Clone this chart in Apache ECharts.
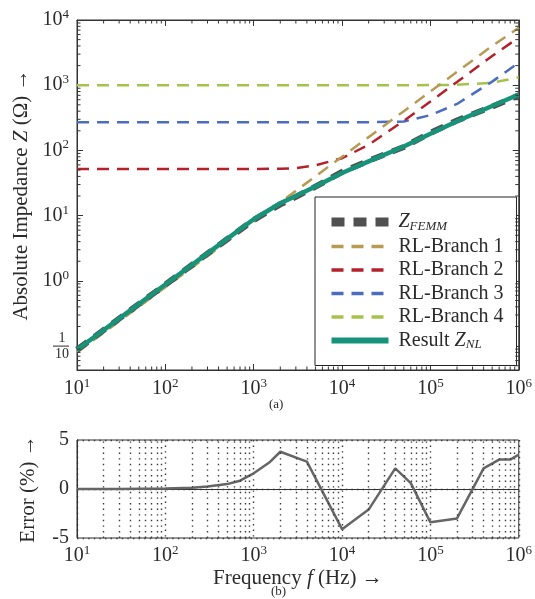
<!DOCTYPE html>
<html><head><meta charset="utf-8">
<script src="https://cdn.jsdelivr.net/npm/echarts@6/dist/echarts.min.js"></script>
<style>html,body{margin:0;padding:0;background:#fff}#c{width:535px;height:599px}</style>
</head><body><div id="c"></div>
<script>
// ---- data ----
const freq    = [10, 20, 50, 100, 200, 500, 1000, 2000, 3000, 5000, 10000, 20000, 50000, 100000, 200000, 500000, 1000000];
const zFemm   = [0.088, 0.176, 0.44, 0.875, 1.75, 4.35, 8.6, 14.9, 19.4, 27.8, 46.8, 69.5, 113, 186, 288, 470, 700];
const zNL     = [0.088, 0.176, 0.44, 0.88, 1.76, 4.4, 8.8, 15.5, 20, 28, 45, 68, 115, 180, 280, 480, 720];
const branch1 = [0.08, 0.16, 0.4, 0.8, 1.6, 4, 8, 16, 24, 40, 80, 160, 400, 800, 1600, 4000, 7600];
const branch2 = [52, 52, 52, 52, 52, 52, 52, 52.5, 53.5, 59, 76, 122, 285, 562, 1120, 2800, 5400];
const branch3 = [270, 270, 270, 270, 270, 270, 270, 270, 270, 270, 270, 270.4, 277, 348, 516, 1135, 2215];
const branch4 = [1000, 1000, 1000, 1000, 1000, 1000, 1000, 1000, 1000, 1000, 1000, 1000, 1000, 1004, 1015, 1090, 1320];
const errFreq = [10, 30, 100, 200, 300, 500, 700, 1000, 1500, 2000, 4000, 10000, 20000, 40000, 60000, 100000, 200000, 400000, 600000, 800000, 1000000];
const errPct  = [0, 0, 0.05, 0.12, 0.25, 0.5, 0.85, 1.6, 2.7, 3.8, 2.8, -4.1, -2.1, 2.1, 0.6, -3.4, -3.0, 2.1, 3.0, 3.0, 3.5];
const legendNames = ['Z_FEMM', 'RL-Branch 1', 'RL-Branch 2', 'RL-Branch 3', 'RL-Branch 4', 'Result Z_NL'];
const zMin = 0.043, zMax = 10000, fMin = 10, fMax = 1000000;
const errMin = -5, errMax = 5, errInterval = 5;

// ---- helpers ----
const FONT = 'Liberation Serif';
const TXT = '#2b2b2b';
const minorX = []; for (let k = 1; k <= 5; k++) for (let m = 2; m <= 9; m++) minorX.push(m * Math.pow(10, k));
const minorY = []; for (let k = -2; k <= 3; k++) for (let m = 2; m <= 9; m++) { const v = m * Math.pow(10, k); if (v > zMin && v < zMax) minorY.push(v); }
const pairs = (xs, ys) => xs.map((x, i) => [x, ys[i]]);
const isPow = v => { const e = Math.log10(v); return Math.abs(e - Math.round(e)) < 1e-6; };
const supRich = {
  s: { fontFamily: FONT, fontSize: 13, color: TXT, padding: [0, 0, 11, 0] },
  n: { fontFamily: FONT, fontSize: 14, color: TXT, lineHeight: 16, align: 'center' }
};
const powLabel = v => {
  if (!isPow(v)) return '';
  const k = Math.round(Math.log10(v));
  if (k === -1) return '{n|1}\n{n|10}';
  return '10{s|' + k + '}';
};
function minorTicks(dir) {
  const vals = dir === 'x' ? minorX : minorY;
  return {
    type: 'custom', xAxisIndex: 0, yAxisIndex: 0, silent: true, z: 6, clip: false,
    data: vals.map(v => dir === 'x' ? [v, 1] : [100, v]),
    renderItem(params, api) {
      const st = { stroke: '#333', lineWidth: 1 };
      if (dir === 'x') {
        const v = api.value(0), a = api.coord([v, zMin]), b = api.coord([v, zMax]);
        return { type: 'group', children: [
          { type: 'line', shape: { x1: a[0], y1: a[1], x2: a[0], y2: a[1] - 3.5 }, style: st },
          { type: 'line', shape: { x1: b[0], y1: b[1], x2: b[0], y2: b[1] + 3.5 }, style: st }] };
      }
      const v = api.value(1), a = api.coord([fMin, v]), b = api.coord([fMax, v]);
      return { type: 'group', children: [
        { type: 'line', shape: { x1: a[0], y1: a[1], x2: a[0] + 3.5, y2: a[1] }, style: st },
        { type: 'line', shape: { x1: b[0], y1: b[1], x2: b[0] - 3.5, y2: b[1] }, style: st }] };
    }
  };
}
const axLine = { show: true, lineStyle: { color: '#333', width: 1 } };
const tickIn = { show: true, inside: true, length: 6, lineStyle: { color: '#333' } };
const lineS = (name, data, color, width, dash, z) => ({
  name, type: 'line', data, xAxisIndex: 0, yAxisIndex: 0, symbol: 'none', z,
  lineStyle: { color, width, type: dash }, itemStyle: { color }
});
const dotted = { color: '#3a3a3a', width: 1.4, type: [1.4, 4.2] };
const nameRich = {
  r: { fontFamily: FONT, fontSize: 21, color: TXT },
  i: { fontFamily: FONT, fontSize: 21, fontStyle: 'italic', color: TXT }
};
const legendWidths = [9, 3.5, 3.5, 3.5, 3.5, 6];

const chart = echarts.init(document.getElementById('c'), null, { renderer: 'canvas' });
chart.setOption({
  animation: false,
  backgroundColor: '#fff',
  textStyle: { fontFamily: FONT, color: TXT },
  grid: [
    { left: 77, right: 14, top: 20, height: 350, show: true, borderColor: '#333', borderWidth: 1 },
    { left: 77, right: 13, top: 440, height: 98, show: true, borderColor: '#333', borderWidth: 1 }
  ],
  title: [
    { text: '(a)', left: 269, top: 398, textStyle: { fontFamily: FONT, fontSize: 13, fontWeight: 'normal', color: TXT }, padding: 0 },
    { text: '(b)', left: 271, top: 585, textStyle: { fontFamily: FONT, fontSize: 13, fontWeight: 'normal', color: TXT }, padding: 0 }
  ],
  legend: {
    data: legendNames.map((n, i) => ({ name: n, lineStyle: { width: legendWidths[i] } })),
    orient: 'vertical', left: 315, top: 197,
    padding: [15, 13, 14, 12], itemGap: 3.5, itemWidth: 57, itemHeight: 14,
    backgroundColor: '#fff', borderColor: '#222', borderWidth: 1, borderRadius: 0,
    itemStyle: { opacity: 0, borderWidth: 0 },
    textStyle: { fontFamily: FONT, fontSize: 20, color: TXT, lineHeight: 20, padding: [0, 0, 0, 5],
      rich: {
        t: { fontFamily: FONT, fontSize: 20, color: TXT },
        i: { fontFamily: FONT, fontSize: 20, fontStyle: 'italic', color: TXT },
        sub: { fontFamily: FONT, fontSize: 13, fontStyle: 'italic', color: TXT, padding: [9, 0, 0, 0] }
      } },
    formatter: n => n === 'Z_FEMM' ? '{i|Z}{sub|FEMM}' : n === 'Result Z_NL' ? '{t|Result }{i|Z}{sub|NL}' : n,
    selectedMode: false
  },
  xAxis: [
    { type: 'log', logBase: 10, gridIndex: 0, min: fMin, max: fMax, position: 'bottom',
      axisLine: axLine, axisTick: tickIn, splitLine: { show: false },
      axisLabel: { fontFamily: FONT, fontSize: 20, color: TXT, margin: 7, formatter: powLabel, rich: supRich } },
    { type: 'log', logBase: 10, gridIndex: 0, min: fMin, max: fMax, position: 'top',
      axisLine: axLine, axisTick: tickIn, splitLine: { show: false }, axisLabel: { show: false } },
    { type: 'log', logBase: 10, gridIndex: 1, min: fMin, max: fMax, position: 'bottom',
      axisLine: axLine, axisTick: { show: false }, splitLine: { show: true, lineStyle: dotted },
      axisLabel: { fontFamily: FONT, fontSize: 20, color: TXT, margin: 6, formatter: powLabel, rich: supRich },
      name: '{r|Frequency }{i|f}{r| (Hz) →}', nameLocation: 'middle', nameGap: 30,
      nameTextStyle: { rich: nameRich } }
  ],
  yAxis: [
    { type: 'log', logBase: 10, gridIndex: 0, min: zMin, max: zMax, position: 'left',
      axisLine: axLine, axisTick: tickIn, splitLine: { show: false },
      axisLabel: { fontFamily: FONT, fontSize: 20, color: TXT, margin: 8, formatter: powLabel, rich: supRich },
      name: '{r|Absolute Impedance }{i|Z}{r| (Ω) →}', nameLocation: 'middle', nameGap: 37, nameRotate: 90,
      nameTextStyle: { rich: nameRich } },
    { type: 'log', logBase: 10, gridIndex: 0, min: zMin, max: zMax, position: 'right',
      axisLine: axLine, axisTick: tickIn, splitLine: { show: false }, axisLabel: { show: false } },
    { type: 'value', gridIndex: 1, min: errMin, max: errMax, interval: errInterval, position: 'left',
      axisLine: axLine, axisTick: { show: false }, splitLine: { show: true, lineStyle: dotted },
      axisLabel: { fontFamily: FONT, fontSize: 20, color: TXT, margin: 8 },
      name: 'Error (%) →', nameLocation: 'middle', nameGap: 38, nameRotate: 90,
      nameTextStyle: { fontFamily: FONT, fontSize: 21, color: TXT } }
  ],
  series: [
    lineS('RL-Branch 4', pairs(freq, branch4), '#a5c34a', 2.5, [12, 8], 2),
    lineS('RL-Branch 3', pairs(freq, branch3), '#4b6cbf', 2.5, [12, 8], 2),
    lineS('RL-Branch 2', pairs(freq, branch2), '#b3222c', 2.5, [12, 8], 2),
    lineS('RL-Branch 1', pairs(freq, branch1), '#b89a52', 2.5, [12, 8], 2),
    lineS('Z_FEMM', pairs(freq, zFemm), '#505050', 6, [13, 9], 3),
    lineS('Result Z_NL', pairs(freq, zNL), '#17937a', 4.5, 'solid', 4),
    minorTicks('x'),
    minorTicks('y'),
    { name: 'Error', type: 'line', xAxisIndex: 2, yAxisIndex: 2, data: pairs(errFreq, errPct), symbol: 'none', z: 4,
      lineStyle: { color: '#666', width: 2.5 },
      markLine: { silent: true, symbol: ['none', 'none'], label: { show: false }, animation: false,
        lineStyle: dotted, data: minorX.map(v => ({ xAxis: v })) } }
  ]
});
// fraction bar of the "1/10" tick label, placed at the 1/10 tick through the axis scale
const yTenth = chart.convertToPixel({ yAxisIndex: 0 }, 0.1);
const xAxisPx = chart.convertToPixel({ xAxisIndex: 0 }, fMin);
chart.setOption({ graphic: [{ type: 'line', silent: true,
  shape: { x1: xAxisPx - 24, y1: yTenth, x2: xAxisPx - 8, y2: yTenth },
  style: { stroke: TXT, lineWidth: 1 } }] });
</script></body></html>
